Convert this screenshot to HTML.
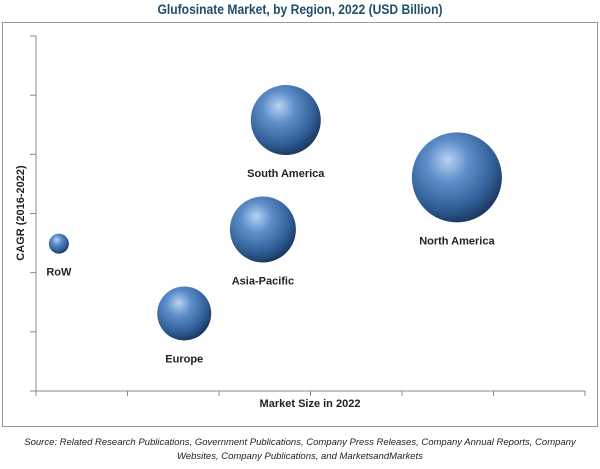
<!DOCTYPE html>
<html><head><meta charset="utf-8"><style>
body{margin:0;background:#fff;width:600px;height:464px;overflow:hidden;font-family:"Liberation Sans",sans-serif}
</style></head><body>
<svg width="600" height="464" xmlns="http://www.w3.org/2000/svg">
<defs>
<radialGradient id="g" cx="0.4" cy="0.35" r="0.65" fx="0.4" fy="0.3">
<stop offset="0" stop-color="#b7d4f2"/><stop offset="0.35" stop-color="#5f8fcb"/><stop offset="0.8" stop-color="#2f5c94"/><stop offset="1" stop-color="#1d3c63"/>
</radialGradient>
</defs>
<text x="300" y="14" text-anchor="middle" font-size="13.5" font-weight="bold" fill="#1f4e6b" textLength="285" lengthAdjust="spacingAndGlyphs">Glufosinate Market, by Region, 2022 (USD Billion)</text>
<rect x="2.5" y="22.5" width="595" height="404" fill="none" stroke="#999"/>
<g id="axes"></g>
<g id="bubbles"></g>
<text transform="translate(24,213) rotate(-90)" text-anchor="middle" font-size="11" font-weight="bold" fill="#222">CAGR (2016-2022)</text>
<text x="310" y="407" text-anchor="middle" font-size="11" font-weight="bold" fill="#222">Market Size in 2022</text>
<text x="300" y="445" text-anchor="middle" font-size="9.5" font-style="italic" fill="#222">Source: Related Research Publications, Government Publications, Company Press Releases, Company Annual Reports, Company</text>
<text x="300" y="459" text-anchor="middle" font-size="9.5" font-style="italic" fill="#222">Websites, Company Publications, and MarketsandMarkets</text>
</svg>
<script>
const regions=["RoW","Europe","Asia-Pacific","South America","North America"];
const marketSize=[0.25,1.62,2.48,2.73,4.6];
const cagr=[2.49,1.31,2.73,4.58,3.61];
const bubbleSize=[10,27,33,35,45];
const xTicks=[0,1,2,3,4,5,6];
const yTicks=[0,1,2,3,4,5,6];
const X0=36,XW=549,Y0=391,YH=355;
const xs=v=>X0+v/6*XW, ys=v=>Y0-v/6*YH;
const NS="http://www.w3.org/2000/svg";
const ax=document.getElementById('axes'),bb=document.getElementById('bubbles');
function mk(tag,at,p){const e=document.createElementNS(NS,tag);for(const k in at)e.setAttribute(k,at[k]);p.appendChild(e);return e;}
let l=mk('line',{x1:X0,y1:Y0,x2:X0,y2:ys(6),stroke:'#888'},ax);


l=mk('line',{x1:X0,y1:Y0,x2:xs(6),y2:Y0,stroke:'#888'},ax);


yTicks.forEach(t=>{const e=mk('line',{x1:X0-6,x2:X0,y1:ys(t),y2:ys(t),stroke:'#888'},ax);

});
xTicks.forEach(t=>{const e=mk('line',{x1:xs(t),x2:xs(t),y1:Y0,y2:Y0+5,stroke:'#888'},ax);

});
regions.forEach((r,i)=>{
const cx=xs(marketSize[i]),cy=ys(cagr[i]),rr=bubbleSize[i];
const c=mk('circle',{cx:cx,cy:cy,r:rr,fill:'url(#g)'},bb);


const t=mk('text',{x:cx,y:cy+rr+22,'text-anchor':'middle','font-size':'11','font-weight':'bold',fill:'#222'},bb);
t.textContent=r;


});
</script>
</body></html>
